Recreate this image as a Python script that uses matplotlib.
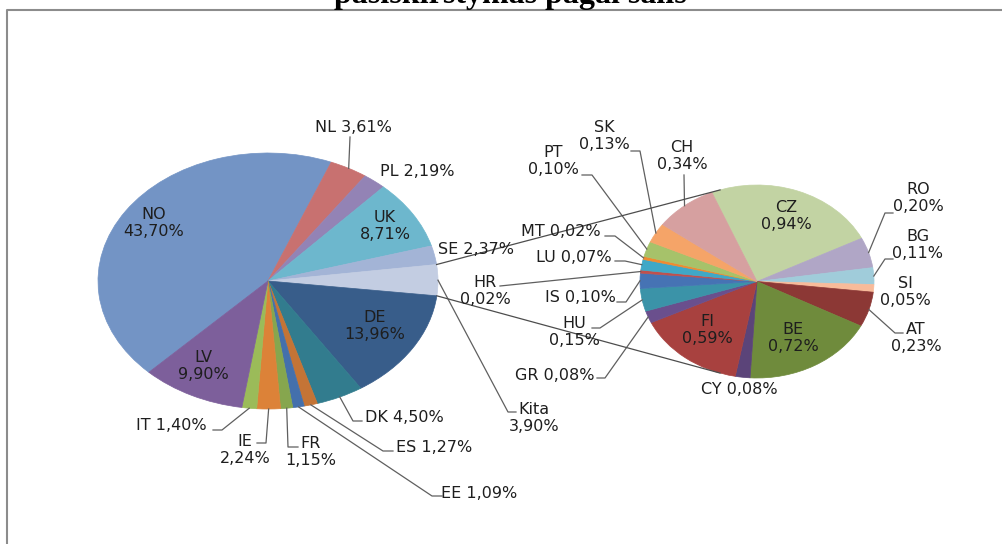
import numpy as np
import matplotlib.pyplot as plt

# main pie: shares by country, % (clockwise from NO)
main_labels = ['NO', 'NL', 'PL', 'UK', 'SE', 'Kita', 'DE', 'DK', 'ES', 'EE', 'FR', 'IE', 'IT', 'LV']
main_values = [43.70, 3.61, 2.19, 8.71, 2.37, 3.90, 13.96, 4.50, 1.27, 1.09, 1.15, 2.24, 1.40, 9.90]
main_colors = ['#7394c5', '#c87170', '#9383b5', '#6db7cd', '#a3b4d6', '#c3cde2', '#385d8a',
               '#327c8e', '#c47436', '#4470ac', '#86a64e', '#dc8238', '#9bbb59', '#7d5f9b']

# secondary pie: breakdown of "Kita" (clockwise from CZ)
sub_labels = ['CZ', 'RO', 'BG', 'SI', 'AT', 'BE', 'CY', 'FI', 'GR', 'HU', 'IS', 'HR', 'LU', 'MT', 'PT', 'SK', 'CH']
sub_values = [0.94, 0.20, 0.11, 0.05, 0.23, 0.72, 0.08, 0.59, 0.08, 0.15, 0.10, 0.02, 0.07, 0.02, 0.10, 0.13, 0.34]
sub_colors = ['#c2d3a3', '#b0a6c6', '#a0ccda', '#f8bb9a', '#8c3835', '#6f8b3c', '#5b4479', '#a8413f', '#6a4f8d',
              '#3b93a8', '#4673b4', '#c0504d', '#3fa8c7', '#f08a30', '#a6c26a', '#f5a468', '#d6a0a0']

W, H = 1003, 544
fig = plt.figure(figsize=(W / 100, H / 100), dpi=100)

# pie geometry in pixels: centre, horizontal and vertical radius, start angle
L = dict(cx=268, cy=281, rx=170, ry=128, start=225.5)
R = dict(cx=757, cy=281.5, rx=117, ry=96.5, start=112.7)


def draw_pie(g, values, colors):
    ax = fig.add_axes([(g['cx'] - g['rx']) / W, 1 - (g['cy'] + g['ry']) / H,
                       2 * g['rx'] / W, 2 * g['ry'] / H])
    wedges, _ = ax.pie(values, colors=colors, startangle=g['start'], counterclock=False,
                       radius=1, wedgeprops=dict(linewidth=0.5))
    for w in wedges:
        w.set_edgecolor(w.get_facecolor())
    ax.set_xlim(-1, 1)
    ax.set_ylim(-1, 1)
    ax.set_aspect('auto')
    ax.axis('off')


def angles(g, values):
    tot = sum(values)
    edges = g['start'] - 360 * np.concatenate([[0], np.cumsum(values)]) / tot
    return edges[:-1], edges[1:]


def pt(g, ang, r=1.0):
    a = np.radians(ang)
    return g['cx'] + g['rx'] * r * np.cos(a), g['cy'] - g['ry'] * r * np.sin(a)


draw_pie(L, main_values, main_colors)
draw_pie(R, sub_values, sub_colors)

ov = fig.add_axes([0, 0, 1, 1])
ov.set_xlim(0, W)
ov.set_ylim(H, 0)
ov.axis('off')

# chart frame
ov.plot([7.5, 7.5, W], [H, 10, 10], color='#8c8c8c', lw=1.5, solid_capstyle='butt')
ov.text(510, 3, 'pasiskirstymas pagal šalis', ha='center', va='baseline',
        family='Liberation Serif', weight='bold', fontsize=23, color='#000000')

txt = dict(fontsize=11.5, color='#1e1e1e', ha='center', va='center', linespacing=1.2, family='DejaVu Sans')
lead = dict(color='#5f5f5f', lw=0.9)


def pct(v):
    return f'{v:.2f}%'.replace('.', ',')


# label placement: (x, y, two-line?) and leader elbows
main_pos = {
    'NO': (154, 223, True), 'NL': (353, 127, False), 'PL': (417, 171, False), 'UK': (385, 226, True),
    'SE': (476, 249, False), 'Kita': (534, 418, True), 'DE': (375, 326, True), 'DK': (404, 417, False),
    'ES': (434, 447, False), 'EE': (479, 493, False), 'FR': (311, 452, True), 'IE': (245, 450, True),
    'IT': (171, 426, False), 'LV': (203, 366, True),
}
main_lead = {
    'NL': [(350, 137)], 'Kita': [(516, 412), (508, 412)], 'DK': [(362, 421), (353, 421)],
    'ES': [(393, 451), (383, 451)], 'EE': [(442, 496), (432, 496)], 'FR': [(298, 447), (288, 447)],
    'IE': [(257, 443), (266, 443)], 'IT': [(213, 430), (222, 430)],
}
sub_pos = {
    'CZ': (786, 216, True), 'RO': (918, 198, True), 'BG': (918, 245, True), 'SI': (905, 292, True),
    'AT': (916, 338, True), 'BE': (793, 338, True), 'CY': (739, 390, False), 'FI': (707, 330, True),
    'GR': (555, 375, False), 'HU': (574, 332, True), 'IS': (580, 297, False), 'HR': (485, 291, True),
    'LU': (574, 257, False), 'MT': (561, 232, False), 'PT': (553, 161, True), 'SK': (604, 136, True),
    'CH': (682, 156, True),
}
sub_lead = {
    'CH': [(684, 175)], 'SK': [(631, 151), (640, 151)], 'PT': [(582, 175), (592, 175)],
    'MT': [(605, 236), (615, 236)], 'LU': [(615, 261), (625, 261)], 'HR': [(500, 286)],
    'IS': [(617, 302), (626, 302)], 'HU': [(592, 328), (600, 328)], 'GR': [(597, 378), (605, 378)],
    'RO': [(893, 213), (885, 213)], 'BG': [(893, 259), (885, 259)], 'AT': [(903, 333), (895, 333)],
}

for g, labels, values, pos, leads in [(L, main_labels, main_values, main_pos, main_lead),
                                      (R, sub_labels, sub_values, sub_pos, sub_lead)]:
    t1, t2 = angles(g, values)
    for lab, v, a1, a2 in zip(labels, values, t1, t2):
        x, y, two = pos[lab]
        ov.text(x, y, f'{lab}\n{pct(v)}' if two else f'{lab} {pct(v)}', **txt)
        if lab in leads:
            ex, ey = pt(g, (a1 + a2) / 2)
            xs = [p[0] for p in leads[lab]] + [ex]
            ys = [p[1] for p in leads[lab]] + [ey]
            ov.plot(xs, ys, **lead)

# connector lines from the "Kita" wedge to the secondary pie
k = main_labels.index('Kita')
t1, t2 = angles(L, main_values)
for a_main, a_sub in [(t1[k], 108.4), (t2[k], -108.4)]:
    x0, y0 = pt(L, a_main)
    x1, y1 = pt(R, a_sub)
    ov.plot([x0, x1], [y0, y1], color='#4d4d4d', lw=0.9)

fig.savefig('out.png', dpi=100)
